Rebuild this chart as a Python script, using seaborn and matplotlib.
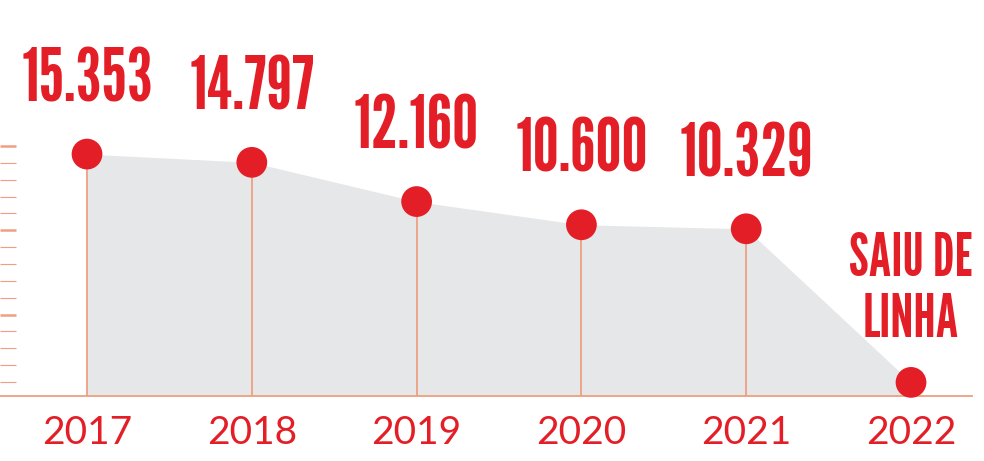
import numpy as np
import pandas as pd
import seaborn as sns
import matplotlib.pyplot as plt
from matplotlib.ticker import FixedLocator

# data
years = ['2017', '2018', '2019', '2020', '2021', '2022']
units = [15353, 14797, 12160, 10600, 10329, 0]
point_labels = ['15.353', '14.797', '12.160', '10.600', '10.329', 'SAIU DE\nLINHA']

red = '#E31E26'
salmon = '#EE9F82'
grey = '#E6E7E8'
condensed = ['League Gothic', 'Oswald', 'DejaVu Sans']

df = pd.DataFrame({'pos': np.arange(len(years)), 'year': years, 'units': units})

sns.set_style('white')
plt.rcParams['font.family'] = ['Lato', 'DejaVu Sans']

fig = plt.figure(figsize=(9.84, 4.61), dpi=100)
ax = fig.add_axes([0, 65 / 461, 972 / 984, 396 / 461])

ybottom = -915
ax.set_ylim(ybottom, 25714)
ax.set_xlim(-0.528, 5.37)

# grey area under the curve
ax.fill_between(df.pos, df.units, ybottom, color=grey, lw=0, zorder=1)
# thin drop lines
ax.vlines(df.pos, ybottom, df.units, color=salmon, lw=1.3, zorder=2)
# dots
sns.scatterplot(data=df, x='pos', y='units', ax=ax, s=490, color=red,
                edgecolor='none', zorder=3, clip_on=False, legend=False)

# value labels
for i, row in df.iterrows():
    if row.units > 0:
        ax.annotate(point_labels[i], (row.pos, row.units), xytext=(0, 38),
                    textcoords='offset points', ha='center', va='baseline',
                    fontsize=53, color=red, family=condensed)
    else:
        # baseline here is the one of the last line
        ax.annotate(point_labels[i], (row.pos, row.units), xytext=(0, 33),
                    textcoords='offset points', ha='center', va='baseline',
                    fontsize=42, color=red, linespacing=1.12, family=condensed)

# decorative ticks on the left
tick_vals = np.linspace(30, 15900, 15)
major = tick_vals[[4, 9, 14]]
minor = np.delete(tick_vals, [4, 9, 14])
ax.yaxis.set_major_locator(FixedLocator(major))
ax.yaxis.set_minor_locator(FixedLocator(minor))
ax.set_yticklabels([])
ax.tick_params(axis='y', which='major', direction='in', length=11.5, width=1.8,
               color=salmon, left=True)
ax.tick_params(axis='y', which='minor', direction='in', length=11.5, width=0.8,
               color=salmon, left=True)

ax.set_xticks(df.pos)
ax.set_xticklabels(years)
ax.tick_params(axis='x', length=0, pad=14, labelsize=28, labelcolor=red)
ax.set_xlabel('')
ax.set_ylabel('')

for s in ['top', 'right', 'left']:
    ax.spines[s].set_visible(False)
ax.spines['bottom'].set_color(salmon)
ax.spines['bottom'].set_linewidth(1.3)

fig.savefig('out.png', dpi=100)
